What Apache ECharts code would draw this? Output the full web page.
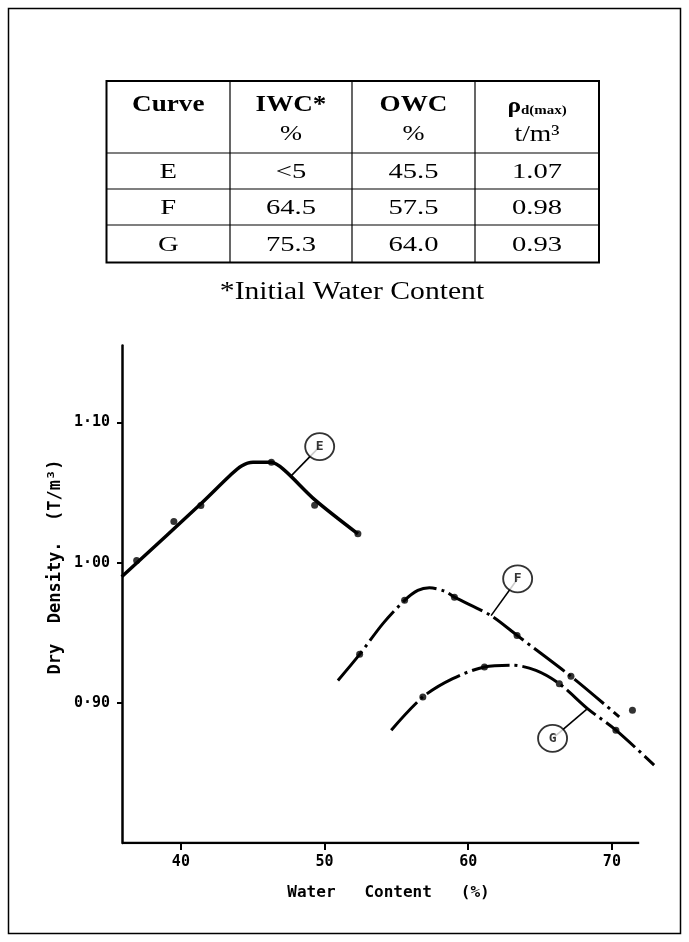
<!DOCTYPE html>
<html><head><meta charset="utf-8">
<script src="https://cdn.jsdelivr.net/npm/echarts@6/dist/echarts.min.js"></script>
<style>html,body{margin:0;padding:0;background:#fff}#c{width:689px;height:942px}</style>
</head><body><div id="c"></div>
<script>
// ---- Table data ----
const tableHeader1 = ['Curve', 'IWC*', 'OWC'];
const tableHeader2 = ['', '%', '%'];
const tableCurve = ['E', 'F', 'G'];
const tableIWC = ['<5', '64.5', '75.3'];
const tableOWC = ['45.5', '57.5', '64.0'];
const tableRho = ['1.07', '0.98', '0.93'];
const footnote = '*Initial Water Content';

// ---- Chart data ----
const xTicks = [40, 50, 60, 70];
const yTicks = [0.90, 1.00, 1.10];
const xAxisStart = 35.9, xAxisEnd = 71.9;
const curveE = [[35.88,0.990],[41.39,1.042],[43.40,1.062],[44.22,1.069],[45.02,1.0716],[46.30,1.0716],[47.20,1.066],[49.31,1.045],[52.32,1.0206]];
const pointsE = [[36.92,1.0016],[39.51,1.0293],[41.39,1.0407],[46.30,1.0716],[49.31,1.0410],[52.32,1.0206]];
const curveF = [[50.93,0.916],[52.44,0.9346],[54.06,0.9565],[55.57,0.9731],[56.49,0.9802],[57.30,0.9821],[58.35,0.9797],[59.04,0.9754],[61.59,0.9622],[63.40,0.9481],[67.15,0.9189],[70.51,0.8900]];
const pointsF = [[52.44,0.9346],[55.57,0.9731],[59.04,0.9754],[63.40,0.9481],[67.15,0.9189],[71.43,0.8947]];
const curveG = [[54.64,0.8805],[56.84,0.9042],[58.92,0.9173],[61.13,0.9256],[63.09,0.9268],[64.71,0.9232],[66.34,0.9137],[68.30,0.8959],[70.28,0.8805],[72.94,0.8556]];
const pointsG = [[56.84,0.9042],[61.13,0.9256],[66.34,0.9137],[70.28,0.8805]];
const labelNames = ['E', 'F', 'G'];
const labelPos = [[49.66,1.0828],[63.44,0.9885],[65.87,0.8746]];
const leaderEnds = [[47.69,1.0621],[61.59,0.9622],[68.30,0.8959]];
const xTitle = 'Water   Content   (%)';
const yTitle = 'Dry  Density.  (T/m³)';

const chart = echarts.init(document.getElementById('c'), null, {renderer: 'canvas'});

// ---- Table graphics ----
const T = {left: 106.5, right: 599, top: 81, bottom: 262.5};
const colX = [T.left, 230, 352, 475, T.right];
const rowY = [T.top, 153, 189, 225, T.bottom];
const colC = colX.slice(0, 4).map((x, i) => (x + colX[i + 1]) / 2);
const serif = '"Liberation Serif", "Times New Roman", serif';
const g = [];
g.push({type: 'rect', shape: {x: 8.5, y: 8.5, width: 672, height: 925}, style: {fill: 'none', stroke: '#000', lineWidth: 1.5}});
g.push({type: 'rect', shape: {x: T.left, y: T.top, width: T.right - T.left, height: T.bottom - T.top}, style: {fill: 'none', stroke: '#000', lineWidth: 2}});
rowY.slice(1, 4).forEach(y => g.push({type: 'line', shape: {x1: T.left, y1: y, x2: T.right, y2: y}, style: {stroke: '#000', lineWidth: 1.2}}));
colX.slice(1, 4).forEach(x => g.push({type: 'line', shape: {x1: x, y1: T.top, x2: x, y2: T.bottom}, style: {stroke: '#000', lineWidth: 1.2}}));
function txt(x, y, text, font, sx) {
  return {type: 'text', x: x, y: y, scaleX: sx, style: {text: text, x: 0, y: 0, font: font, fill: '#000', textAlign: 'center', textVerticalAlign: 'middle'}};
}
tableHeader1.forEach((h, i) => g.push(txt(colC[i], 105, h, 'bold 23px ' + serif, 1.18)));
tableHeader2.forEach((h, i) => { if (h) g.push(txt(colC[i], 134, h, '22px ' + serif, 1.2)); });
g.push({type: 'text', x: colC[3], y: 106, scaleX: 1.15, style: {text: '{r|ρ}{s|d(max)}', x: 0, y: 0, textAlign: 'center', textVerticalAlign: 'middle', fill: '#000',
  rich: {r: {font: 'bold 22px ' + serif, fill: '#000'}, s: {font: 'bold 13px ' + serif, fill: '#000', padding: [9, 0, 0, 0]}}}});
g.push(txt(colC[3], 135, 't/m³', '23px ' + serif, 1.2));
const rowsData = [tableCurve, tableIWC, tableOWC, tableRho];
for (let r = 0; r < 3; r++) {
  const cy = (rowY[r + 1] + rowY[r + 2]) / 2 + 1;
  rowsData.forEach((col, c) => g.push(txt(colC[c], cy, col[r], '22px ' + serif, 1.3)));
}
g.push(txt(352, 292, footnote, '26px ' + serif, 1.14));
g.push({type: 'text', x: 56, y: 567, rotation: Math.PI / 2, style: {text: yTitle, x: 0, y: 0, font: 'bold 17px "DejaVu Sans Mono", monospace', fill: '#000', textAlign: 'center', textVerticalAlign: 'middle'}});

const mono = '"DejaVu Sans Mono", monospace';
const dot = {type: 'scatter', symbol: 'circle', symbolSize: 7, itemStyle: {color: '#000'}, z: 5};

const leaderSeries = labelPos.map((p, i) => ({
  type: 'line', data: [p, leaderEnds[i]], symbol: 'none',
  lineStyle: {color: '#000', width: 1.6}, z: 3
}));

chart.setOption({
  animation: false,
  backgroundColor: '#fff',
  grid: {left: 122, right: 34, top: 345.4, bottom: 99},
  xAxis: {
    type: 'value', min: xAxisStart, max: 73,
    name: xTitle, nameLocation: 'middle', nameGap: 42,
    nameTextStyle: {fontFamily: mono, fontWeight: 'bold', fontSize: 16, color: '#000'},
    axisLine: {show: false},
    axisTick: {show: true, length: 7, lineStyle: {color: '#000', width: 2}, customValues: xTicks},
    axisLabel: {color: '#000', fontFamily: mono, fontWeight: 'bold', fontSize: 15, margin: 12, customValues: xTicks},
    splitLine: {show: false}
  },
  yAxis: {
    type: 'value', min: 0.8, max: 1.155,
    axisLine: {show: true, lineStyle: {color: '#000', width: 2.5}},
    axisTick: {show: true, length: 5, lineStyle: {color: '#000', width: 2}, customValues: yTicks},
    axisLabel: {color: '#000', fontFamily: mono, fontWeight: 'bold', fontSize: 15, margin: 12, customValues: yTicks,
      formatter: v => v.toFixed(2).replace('.', '·')},
    splitLine: {show: false}
  },
  graphic: g,
  series: [
    {type: 'line', data: [[xAxisStart, 0.8], [xAxisEnd, 0.8]], symbol: 'none', lineStyle: {color: '#000', width: 2.5}, z: 4},
    {type: 'line', data: curveE, smooth: 0.3, symbol: 'none', lineStyle: {color: '#000', width: 3.5}, z: 2},
    {type: 'line', data: curveF, smooth: 0.3, symbol: 'none', lineStyle: {color: '#000', width: 3, type: [38, 5, 3, 5]}, z: 2},
    {type: 'line', data: curveG, smooth: 0.3, symbol: 'none', lineStyle: {color: '#000', width: 3, type: [38, 5, 3, 5]}, z: 2},
    Object.assign({}, dot, {data: pointsE}),
    Object.assign({}, dot, {data: pointsF}),
    Object.assign({}, dot, {data: pointsG}),
    ...leaderSeries,
    {type: 'scatter', data: labelPos.map((p, i) => ({value: p, name: labelNames[i]})), symbol: 'circle', symbolSize: [29, 27], z: 6,
      itemStyle: {color: '#fff', borderColor: '#000', borderWidth: 1.8},
      label: {show: true, position: 'inside', formatter: p => p.name, color: '#000', fontFamily: mono, fontWeight: 'bold', fontSize: 13}}
  ]
});
</script></body></html>
